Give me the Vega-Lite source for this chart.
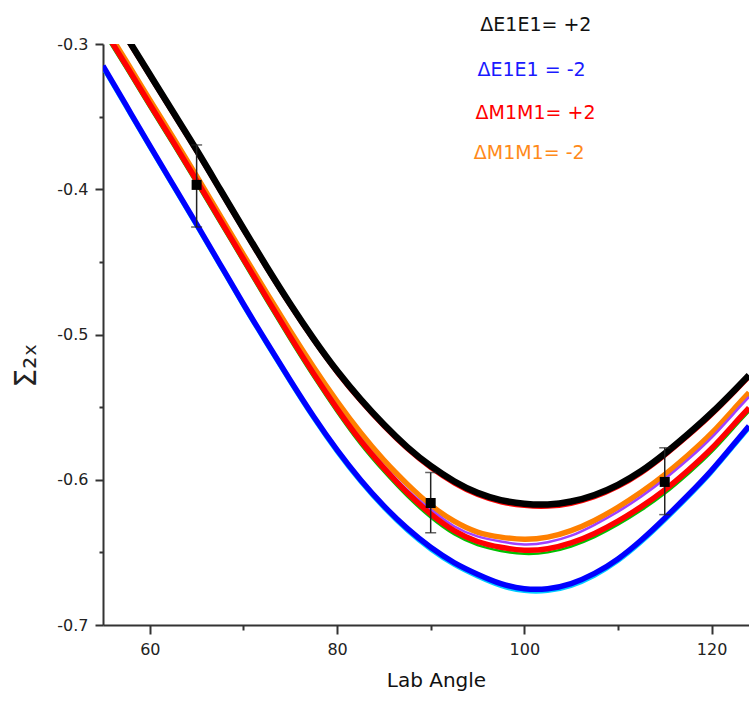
{
  "$schema": "https://vega.github.io/schema/vega-lite/v6.json",
  "width": 646,
  "height": 581,
  "autosize": {"type": "none"},
  "padding": {"left": 103, "top": 44, "right": 0, "bottom": 76},
  "background": "white",
  "config": {"view": {"stroke": null}},
  "resolve": {"axis": {"x": "independent", "y": "independent"}},
  "datasets": {
    "curves": [
      {"x":55,"black":-0.269,"thinred":-0.271,"orange":-0.286,"purple":-0.2875,"green":-0.2915,"red":-0.289,"blue":-0.315,"cyan":-0.317},
      {"x":57.5,"black":-0.295,"thinred":-0.297,"orange":-0.312,"purple":-0.3135,"green":-0.3175,"red":-0.315,"blue":-0.3425,"cyan":-0.3445},
      {"x":60,"black":-0.321,"thinred":-0.323,"orange":-0.3385,"purple":-0.340,"green":-0.344,"red":-0.3415,"blue":-0.370,"cyan":-0.372},
      {"x":62.5,"black":-0.347,"thinred":-0.349,"orange":-0.3645,"purple":-0.366,"green":-0.370,"red":-0.3675,"blue":-0.397,"cyan":-0.399},
      {"x":65,"black":-0.373,"thinred":-0.375,"orange":-0.391,"purple":-0.3925,"green":-0.3965,"red":-0.394,"blue":-0.424,"cyan":-0.426},
      {"x":67.5,"black":-0.400,"thinred":-0.402,"orange":-0.418,"purple":-0.4195,"green":-0.4235,"red":-0.421,"blue":-0.4515,"cyan":-0.4535},
      {"x":70,"black":-0.427,"thinred":-0.429,"orange":-0.445,"purple":-0.4465,"green":-0.4505,"red":-0.448,"blue":-0.479,"cyan":-0.481},
      {"x":72.5,"black":-0.4535,"thinred":-0.4555,"orange":-0.4715,"purple":-0.4735,"green":-0.4775,"red":-0.475,"blue":-0.5055,"cyan":-0.5075},
      {"x":75,"black":-0.479,"thinred":-0.481,"orange":-0.4975,"purple":-0.500,"green":-0.504,"red":-0.5015,"blue":-0.5315,"cyan":-0.5335},
      {"x":77.5,"black":-0.503,"thinred":-0.505,"orange":-0.5225,"purple":-0.5255,"green":-0.5295,"red":-0.527,"blue":-0.5565,"cyan":-0.5585},
      {"x":80,"black":-0.525,"thinred":-0.527,"orange":-0.546,"purple":-0.5495,"green":-0.5535,"red":-0.551,"blue":-0.5795,"cyan":-0.5815},
      {"x":82.5,"black":-0.5445,"thinred":-0.5465,"orange":-0.5675,"purple":-0.5715,"green":-0.5755,"red":-0.573,"blue":-0.600,"cyan":-0.602},
      {"x":85,"black":-0.562,"thinred":-0.564,"orange":-0.5865,"purple":-0.5905,"green":-0.5945,"red":-0.592,"blue":-0.618,"cyan":-0.620},
      {"x":87.5,"black":-0.5775,"thinred":-0.5795,"orange":-0.603,"purple":-0.607,"green":-0.6115,"red":-0.609,"blue":-0.6335,"cyan":-0.6355},
      {"x":90,"black":-0.5905,"thinred":-0.5925,"orange":-0.6175,"purple":-0.6205,"green":-0.626,"red":-0.6235,"blue":-0.6465,"cyan":-0.6485},
      {"x":92.5,"black":-0.601,"thinred":-0.603,"orange":-0.6285,"purple":-0.632,"green":-0.6375,"red":-0.635,"blue":-0.657,"cyan":-0.659},
      {"x":95,"black":-0.609,"thinred":-0.611,"orange":-0.636,"purple":-0.639,"green":-0.645,"red":-0.6425,"blue":-0.665,"cyan":-0.667},
      {"x":97.5,"black":-0.614,"thinred":-0.616,"orange":-0.6395,"purple":-0.6425,"green":-0.649,"red":-0.6465,"blue":-0.6715,"cyan":-0.6735},
      {"x":100,"black":-0.6165,"thinred":-0.6185,"orange":-0.641,"purple":-0.6445,"green":-0.651,"red":-0.6485,"blue":-0.675,"cyan":-0.677},
      {"x":102.5,"black":-0.617,"thinred":-0.619,"orange":-0.6395,"purple":-0.643,"green":-0.650,"red":-0.6475,"blue":-0.675,"cyan":-0.677},
      {"x":105,"black":-0.615,"thinred":-0.617,"orange":-0.635,"purple":-0.6385,"green":-0.646,"red":-0.6435,"blue":-0.6715,"cyan":-0.6735},
      {"x":107.5,"black":-0.6105,"thinred":-0.6125,"orange":-0.628,"purple":-0.631,"green":-0.6395,"red":-0.637,"blue":-0.6645,"cyan":-0.6665},
      {"x":110,"black":-0.6035,"thinred":-0.6055,"orange":-0.619,"purple":-0.622,"green":-0.631,"red":-0.6285,"blue":-0.6545,"cyan":-0.6565},
      {"x":112.5,"black":-0.594,"thinred":-0.596,"orange":-0.6085,"purple":-0.6115,"green":-0.621,"red":-0.6185,"blue":-0.6415,"cyan":-0.6435},
      {"x":115,"black":-0.582,"thinred":-0.584,"orange":-0.5965,"purple":-0.5995,"green":-0.6095,"red":-0.607,"blue":-0.6265,"cyan":-0.6285},
      {"x":117.5,"black":-0.5685,"thinred":-0.5705,"orange":-0.583,"purple":-0.586,"green":-0.596,"red":-0.5935,"blue":-0.6105,"cyan":-0.6125},
      {"x":120,"black":-0.554,"thinred":-0.556,"orange":-0.568,"purple":-0.571,"green":-0.581,"red":-0.5785,"blue":-0.5935,"cyan":-0.5955},
      {"x":122.5,"black":-0.538,"thinred":-0.540,"orange":-0.5505,"purple":-0.5535,"green":-0.5635,"red":-0.561,"blue":-0.5745,"cyan":-0.5765},
      {"x":124,"black":-0.528,"thinred":-0.530,"orange":-0.540,"purple":-0.543,"green":-0.553,"red":-0.5505,"blue":-0.563,"cyan":-0.565}
    ],
    "points": [
      {"x":65,"y":-0.397,"lo":-0.426,"hi":-0.3695},
      {"x":90,"y":-0.616,"lo":-0.6365,"hi":-0.595},
      {"x":115,"y":-0.6015,"lo":-0.624,"hi":-0.578}
    ],
    "labels": [
      {"x":95.3,"y":-0.2869,"t":"ΔE1E1= +2","s":"E+"},
      {"x":95.0,"y":-0.3179,"t":"ΔE1E1 = -2","s":"E-"},
      {"x":94.8,"y":-0.3475,"t":"ΔM1M1= +2","s":"M+"},
      {"x":94.6,"y":-0.375,"t":"ΔM1M1= -2","s":"M-"}
    ]
  },
  "data": {"name": "curves"},
  "encoding": {
    "x": {"field": "x", "type": "quantitative", "scale": {"domain": [55, 124], "nice": false, "zero": false}, "axis": null}
  },
  "layer": [
    {"mark": {"type": "line", "clip": true, "interpolate": "natural", "color": "#00ccff", "strokeWidth": 3},
     "encoding": {"y": {"field": "cyan", "type": "quantitative", "scale": {"domain": [-0.7, -0.3], "nice": false, "zero": false}, "axis": null}}},
    {"mark": {"type": "line", "clip": true, "interpolate": "natural", "color": "#0000ff", "strokeWidth": 5.5},
     "encoding": {"y": {"field": "blue", "type": "quantitative", "scale": {"domain": [-0.7, -0.3], "nice": false, "zero": false}, "axis": null}}},
    {"mark": {"type": "line", "clip": true, "interpolate": "natural", "color": "#ff8000", "strokeWidth": 5.5},
     "encoding": {"y": {"field": "orange", "type": "quantitative", "scale": {"domain": [-0.7, -0.3], "nice": false, "zero": false}, "axis": null}}},
    {"mark": {"type": "line", "clip": true, "interpolate": "natural", "color": "#a040ff", "strokeWidth": 2.5},
     "encoding": {"y": {"field": "purple", "type": "quantitative", "scale": {"domain": [-0.7, -0.3], "nice": false, "zero": false}, "axis": null}}},
    {"mark": {"type": "line", "clip": true, "interpolate": "natural", "color": "#00c000", "strokeWidth": 2.5},
     "encoding": {"y": {"field": "green", "type": "quantitative", "scale": {"domain": [-0.7, -0.3], "nice": false, "zero": false}, "axis": null}}},
    {"mark": {"type": "line", "clip": true, "interpolate": "natural", "color": "#ff0000", "strokeWidth": 5.5},
     "encoding": {"y": {"field": "red", "type": "quantitative", "scale": {"domain": [-0.7, -0.3], "nice": false, "zero": false}, "axis": null}}},
    {"mark": {"type": "line", "clip": true, "interpolate": "natural", "color": "#ff0000", "strokeWidth": 3},
     "encoding": {"y": {"field": "thinred", "type": "quantitative", "scale": {"domain": [-0.7, -0.3], "nice": false, "zero": false}, "axis": null}}},
    {"mark": {"type": "line", "clip": true, "interpolate": "natural", "color": "#000000", "strokeWidth": 6.5},
     "encoding": {"y": {"field": "black", "type": "quantitative", "scale": {"domain": [-0.7, -0.3], "nice": false, "zero": false}, "axis": null}}},
    {"data": {"name": "points"},
     "mark": {"type": "rule", "color": "#222", "strokeWidth": 1.5},
     "encoding": {
       "x": {"field": "x", "type": "quantitative", "scale": {"domain": [55, 124], "nice": false, "zero": false},
         "axis": {"orient": "bottom", "values": [70, 90, 110], "labels": false, "domain": false, "grid": false,
                  "tickColor": "#333", "tickWidth": 2, "tickSize": 5, "title": null}},
       "y": {"field": "lo", "type": "quantitative", "scale": {"domain": [-0.7, -0.3], "nice": false, "zero": false},
         "axis": {"orient": "left", "values": [-0.65, -0.55, -0.45, -0.35], "labels": false, "domain": false, "grid": false,
                  "tickColor": "#333", "tickWidth": 2, "tickSize": 4, "title": null}},
       "y2": {"field": "hi"}}},
    {"data": {"name": "points"},
     "mark": {"type": "tick", "orient": "horizontal", "color": "#222", "size": 11, "thickness": 1.5},
     "encoding": {"y": {"field": "lo", "type": "quantitative", "scale": {"domain": [-0.7, -0.3], "nice": false, "zero": false}, "axis": null}}},
    {"data": {"name": "points"},
     "mark": {"type": "tick", "orient": "horizontal", "color": "#222", "size": 11, "thickness": 1.5},
     "encoding": {"y": {"field": "hi", "type": "quantitative", "scale": {"domain": [-0.7, -0.3], "nice": false, "zero": false}, "axis": null}}},
    {"data": {"name": "points"},
     "mark": {"type": "square", "color": "#000", "opacity": 1, "filled": true, "size": 100},
     "encoding": {
       "x": {"field": "x", "type": "quantitative", "scale": {"domain": [55, 124], "nice": false, "zero": false},
         "axis": {
           "orient": "bottom",
           "values": [60, 80, 100, 120],
           "grid": false,
           "domainColor": "#333", "domainWidth": 2,
           "tickColor": "#333", "tickWidth": 2, "tickSize": 9,
           "labelFont": "DejaVu Sans", "labelFontSize": 16, "labelColor": "#222", "labelPadding": 7,
           "title": "Lab Angle", "titleFont": "DejaVu Sans", "titleFontSize": 20, "titleFontWeight": "normal",
           "titleColor": "#111", "titlePadding": 13, "titleX": 333
         }},
       "y": {"field": "y", "type": "quantitative", "scale": {"domain": [-0.7, -0.3], "nice": false, "zero": false},
         "axis": {
           "orient": "left",
           "values": [-0.7, -0.6, -0.5, -0.4, -0.3],
           "labelExpr": "'-' + format(abs(datum.value), '.1f')",
           "grid": false,
           "domainColor": "#333", "domainWidth": 2,
           "tickColor": "#333", "tickWidth": 2, "tickSize": 8,
           "labelFont": "DejaVu Sans", "labelFontSize": 16, "labelColor": "#222", "labelPadding": 7,
           "title": "Σ₂ₓ", "titleFont": "DejaVu Sans", "titleFontSize": 30, "titleFontWeight": "normal",
           "titleColor": "#222", "titleAngle": 270, "titleX": -68, "titleY": 321, "titleAlign": "center", "titleBaseline": "alphabetic"
         }}
     }},
    {"data": {"name": "labels"},
     "mark": {"type": "text", "align": "left", "baseline": "middle", "font": "DejaVu Sans", "fontSize": 19},
     "encoding": {
       "y": {"field": "y", "type": "quantitative", "scale": {"domain": [-0.7, -0.3], "nice": false, "zero": false}, "axis": null},
       "text": {"field": "t"},
       "color": {"field": "s", "type": "nominal", "scale": {"domain": ["E+", "E-", "M+", "M-"], "range": ["#111111", "#1a1aff", "#ff0000", "#ff8a1a"]}, "legend": null}
     }}
  ]
}
